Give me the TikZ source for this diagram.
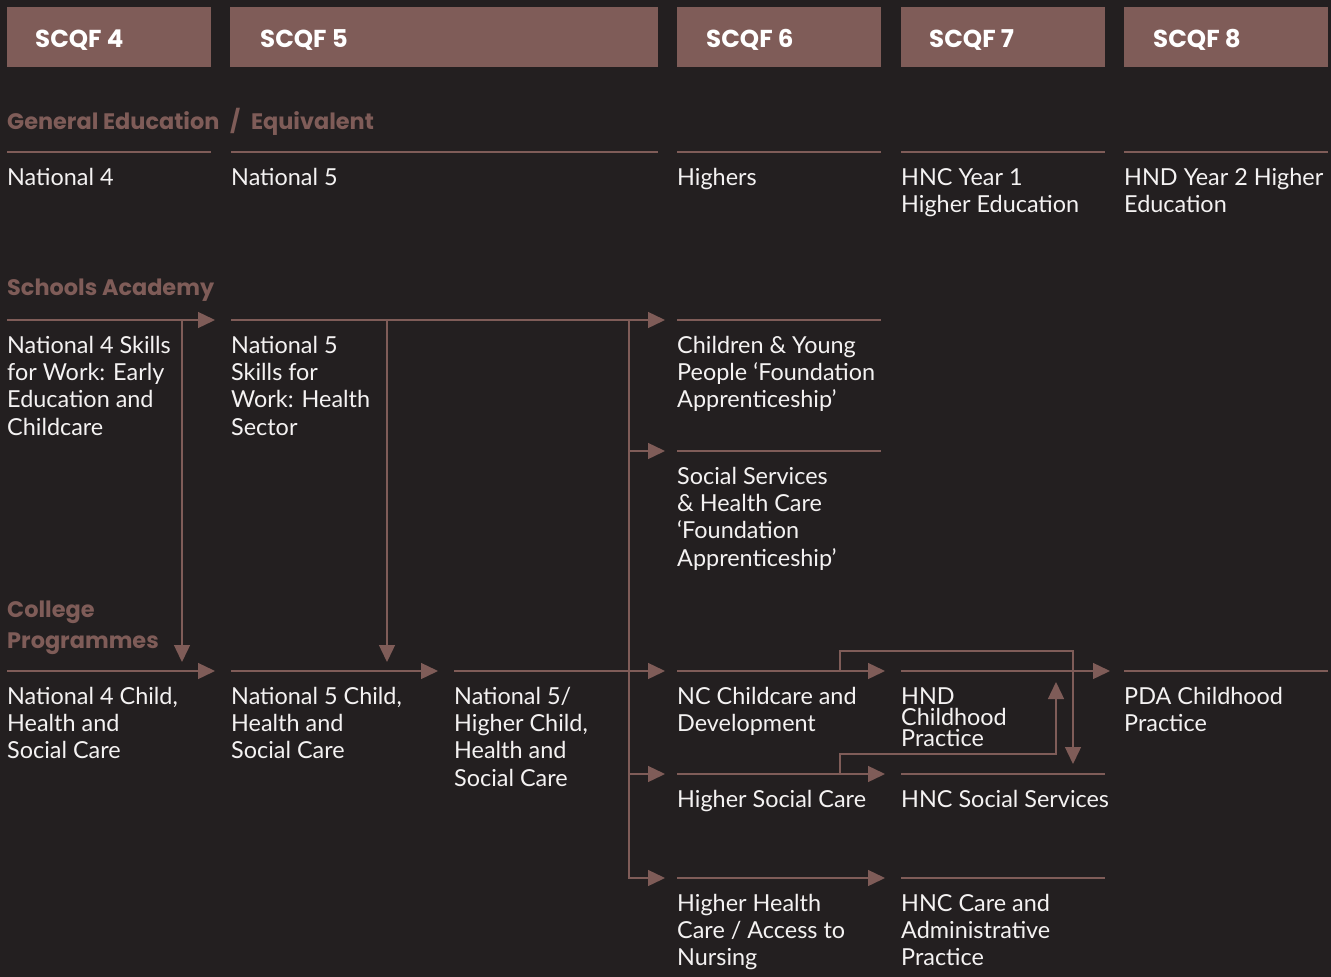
\documentclass[tikz,border=0pt]{standalone}
\usepackage{fontspec}
\setmainfont{Lato}
\newfontfamily\headfont{Poppins}
\usetikzlibrary{arrows.meta}
\definecolor{bgdark}{HTML}{231F20}
\definecolor{scqfbrown}{HTML}{7F5C58}
\definecolor{coursewhite}{HTML}{F4F2F2}

\begin{document}
\begin{tikzpicture}[x=1pt, y=-1pt,
    scqfbox/.style={fill=scqfbrown, draw=none, minimum height=60pt, inner sep=0pt},
    scqflabel/.style={anchor=base west, inner sep=0pt, text=white, font=\headfont\fontsize{24.5}{28}\selectfont\bfseries},
    sectitle/.style={anchor=base west, inner sep=0pt, align=left, text=scqfbrown, font=\headfont\fontsize{22.4}{31}\selectfont\bfseries},
    course/.style={anchor=north west, inner sep=0pt, align=left, text=coursewhite, font=\fontsize{23.4}{27.3}\selectfont},
    hrule/.style={draw=scqfbrown, line width=1.4pt},
    flow/.style={hrule, -{Triangle[length=17pt,width=16pt]}}
]
% background and page size
\fill[bgdark] (0,0) rectangle (1331,977);

% SCQF level headers
\node[scqfbox, minimum width=204pt] (lv4) at (109,37) {};
\node[scqfbox, minimum width=428pt] (lv5) at (444,37) {};
\node[scqfbox, minimum width=204pt] (lv6) at (779,37) {};
\node[scqfbox, minimum width=204pt] (lv7) at (1003,37) {};
\node[scqfbox, minimum width=204pt] (lv8) at (1226,37) {};
\node[scqflabel] (lv4t) at (35,47.5) {SCQF 4};
\node[scqflabel] (lv5t) at (260,47.5) {SCQF 5};
\node[scqflabel] (lv6t) at (706,47.5) {SCQF 6};
\node[scqflabel] (lv7t) at (929,47.5) {SCQF 7};
\node[scqflabel] (lv8t) at (1153,47.5) {SCQF 8};

% section titles
\node[sectitle] (gen) at (7,129) {General Education\kern6pt\ /\ \kern6pt Equivalent};
\node[sectitle] (sch) at (7,295) {Schools Academy};
\node[sectitle] (col) at (7,648) {College\\Programmes};

% general education
\coordinate (g4a) at (7,152);    \coordinate (g4b) at (211,152);
\coordinate (g5a) at (231,152);  \coordinate (g5b) at (658,152);
\coordinate (g6a) at (677,152);  \coordinate (g6b) at (881,152);
\coordinate (g7a) at (901,152);  \coordinate (g7b) at (1105,152);
\coordinate (g8a) at (1124,152); \coordinate (g8b) at (1328,152);
\draw[hrule] (g4a) -- (g4b);
\draw[hrule] (g5a) -- (g5b);
\draw[hrule] (g6a) -- (g6b);
\draw[hrule] (g7a) -- (g7b);
\draw[hrule] (g8a) -- (g8b);
\node[course] (nat4) at (7,166) {\strut National 4};
\node[course] (nat5) at (231,166) {\strut National 5};
\node[course] (highers) at (677,166) {\strut Highers};
\node[course] (hnc1) at (901,166) {\strut HNC Year 1\\Higher Education};
\node[course] (hnd2) at (1124,166) {\strut HND Year 2 Higher\\Education};

% schools academy
\coordinate (s4a) at (7,320);   \coordinate (s4t) at (215,320);
\coordinate (s5a) at (231,320); \coordinate (s5t) at (665,320);
\coordinate (s6a) at (677,320); \coordinate (s6b) at (881,320);
\coordinate (ss6a) at (677,451); \coordinate (ss6b) at (881,451);
\draw[flow] (s4a) -- (s4t);
\draw[flow] (s5a) -- (s5t);
\draw[hrule] (s6a) -- (s6b);
\draw[hrule] (ss6a) -- (ss6b);
\node[course] (sfw4) at (7,334) {\strut National 4 Skills\\for Work: Early\\Education and\\Childcare};
\node[course] (sfw5) at (231,334) {\strut National 5\\Skills for\\Work: Health\\Sector};
\node[course] (cyp) at (677,334) {\strut Children \& Young\\People ‘Foundation\\Apprenticeship’};
\node[course] (sshc) at (677,465) {\strut Social Services\\\& Health Care\\‘Foundation\\Apprenticeship’};

% college programmes
\coordinate (c4a) at (7,671);    \coordinate (c4t) at (215,671);
\coordinate (c5a) at (231,671);  \coordinate (c5t) at (438,671);
\coordinate (c5ba) at (454,671); \coordinate (c5bt) at (665,671);
\coordinate (c6a) at (677,671);  \coordinate (c6t) at (885,671);
\coordinate (c7a) at (901,671);  \coordinate (c7t) at (1110,671);
\coordinate (c8a) at (1124,671); \coordinate (c8b) at (1328,671);
\coordinate (hs6a) at (677,774); \coordinate (hs6t) at (885,774);
\coordinate (hs7a) at (901,774); \coordinate (hs7b) at (1105,774);
\coordinate (hh6a) at (677,878); \coordinate (hh6t) at (885,878);
\coordinate (hh7a) at (901,878); \coordinate (hh7b) at (1105,878);
\draw[flow] (c4a) -- (c4t);
\draw[flow] (c5a) -- (c5t);
\draw[flow] (c5ba) -- (c5bt);
\draw[flow] (c6a) -- (c6t);
\draw[flow] (c7a) -- (c7t);
\draw[hrule] (c8a) -- (c8b);
\draw[flow] (hs6a) -- (hs6t);
\draw[hrule] (hs7a) -- (hs7b);
\draw[flow] (hh6a) -- (hh6t);
\draw[hrule] (hh7a) -- (hh7b);
\node[course] (cc4) at (7,685) {\strut National 4 Child,\\Health and\\Social Care};
\node[course] (cc5) at (231,685) {\strut National 5 Child,\\Health and\\Social Care};
\node[course] (cc5h) at (454,685) {\strut National 5/\\Higher Child,\\Health and\\Social Care};
\node[course] (ncc) at (677,685) {\strut NC Childcare and\\Development};
\node[course, font=\fontsize{23.4}{21}\selectfont] (hndcp) at (901,688) {HND\\Childhood\\Practice};
\node[course] (pda) at (1124,685) {\strut PDA Childhood\\Practice};
\node[course] (hsc) at (677,788) {\strut Higher Social Care};
\node[course] (hncss) at (901,788) {\strut HNC Social Services};
\node[course] (hhc) at (677,892) {\strut Higher Health\\Care / Access to\\Nursing};
\node[course] (hncca) at (901,892) {\strut HNC Care and\\Administrative\\Practice};

% progression routes between levels
\coordinate (d4top) at (182,320); \coordinate (d4tip) at (182,662);
\coordinate (d5top) at (387,320); \coordinate (d5tip) at (387,662);
\coordinate (d6top) at (629,320);
\draw[flow] (d4top) -- (d4tip);
\draw[flow] (d5top) -- (d5tip);
\draw[flow] (d6top) |- (665,878);
\draw[flow] (629,451) -- (665,451);
\draw[flow] (629,774) -- (665,774);
\coordinate (ncup) at (840,671);  \coordinate (ssdown) at (1073,764);
\coordinate (hsup) at (840,774);  \coordinate (hndup) at (1056,682);
\draw[flow] (ncup) -- (840,651) -| (ssdown);
\draw[flow] (hsup) -- (840,754) -| (hndup);
\end{tikzpicture}
\end{document}
